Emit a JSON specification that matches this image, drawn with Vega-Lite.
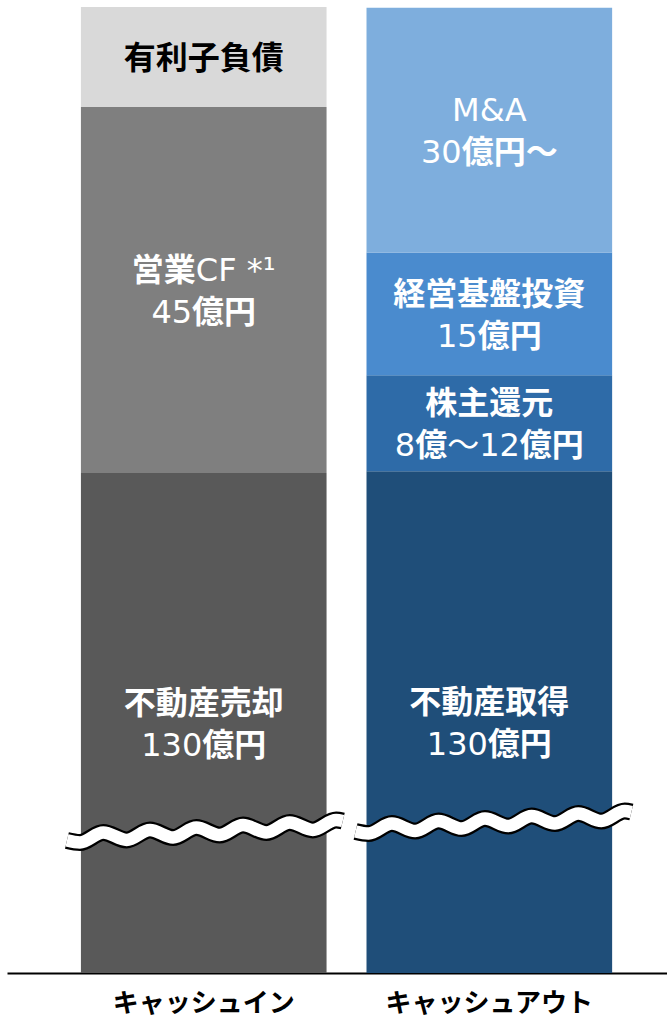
{
  "$schema": "https://vega.github.io/schema/vega-lite/v6.json",
  "width": 660,
  "height": 966,
  "padding": {"left": 7, "top": 7, "right": 0, "bottom": 0},
  "background": "white",
  "config": {"view": {"stroke": null}},
  "datasets": {
    "segs": [
      {"side": "キャッシュイン", "item": "不動産売却", "ord": 1, "h": 61.5, "pt": ["不動産売却", "130", "億円"], "pb": [1, 0, 1], "pl": [0, 1, 1], "ps": [0, 0, 1]},
      {"side": "キャッシュイン", "item": "営業CF", "ord": 2, "h": 45.0, "pt": ["営業", "CF *¹", "45", "億円"], "pb": [1, 0, 0, 1], "pl": [0, 0, 1, 1], "ps": [0, 1, 0, 1]},
      {"side": "キャッシュイン", "item": "有利子負債", "ord": 3, "h": 12.3, "pt": ["有利子負債"], "pb": [1], "pl": [0], "ps": [0]},
      {"side": "キャッシュアウト", "item": "不動産取得", "ord": 1, "h": 61.7, "pt": ["不動産取得", "130", "億円"], "pb": [1, 0, 1], "pl": [0, 1, 1], "ps": [0, 0, 1]},
      {"side": "キャッシュアウト", "item": "株主還元", "ord": 2, "h": 11.8, "pt": ["株主還元", "8", "億", "～", "12", "億円"], "pb": [1, 0, 1, 0, 0, 1], "pl": [0, 1, 1, 1, 1, 1], "ps": [0, 0, 1, 2, 3, 4]},
      {"side": "キャッシュアウト", "item": "経営基盤投資", "ord": 3, "h": 15.1, "pt": ["経営基盤投資", "15", "億円"], "pb": [1, 0, 1], "pl": [0, 1, 1], "ps": [0, 0, 1]},
      {"side": "キャッシュアウト", "item": "M&A", "ord": 4, "h": 30.1, "pt": ["M&A", "30", "億円～"], "pb": [0, 0, 1], "pl": [0, 1, 1], "ps": [0, 0, 1]}
    ],
    "wave": [
      {"side": "キャッシュイン", "u": -0.057, "wy": 16.30},
      {"side": "キャッシュイン", "u": -0.004, "wy": 16.05},
      {"side": "キャッシュイン", "u": 0.091, "wy": 17.28},
      {"side": "キャッシュイン", "u": 0.186, "wy": 16.36},
      {"side": "キャッシュイン", "u": 0.281, "wy": 17.59},
      {"side": "キャッシュイン", "u": 0.375, "wy": 16.66},
      {"side": "キャッシュイン", "u": 0.470, "wy": 17.89},
      {"side": "キャッシュイン", "u": 0.565, "wy": 16.97},
      {"side": "キャッシュイン", "u": 0.660, "wy": 18.20},
      {"side": "キャッシュイン", "u": 0.755, "wy": 17.28},
      {"side": "キャッシュイン", "u": 0.850, "wy": 18.51},
      {"side": "キャッシュイン", "u": 0.944, "wy": 17.59},
      {"side": "キャッシュイン", "u": 1.039, "wy": 18.82},
      {"side": "キャッシュイン", "u": 1.066, "wy": 18.69},
      {"side": "キャッシュアウト", "u": 1.118, "wy": 17.40},
      {"side": "キャッシュアウト", "u": 1.171, "wy": 17.15},
      {"side": "キャッシュアウト", "u": 1.266, "wy": 18.38},
      {"side": "キャッシュアウト", "u": 1.361, "wy": 17.46},
      {"side": "キャッシュアウト", "u": 1.456, "wy": 18.69},
      {"side": "キャッシュアウト", "u": 1.550, "wy": 17.76},
      {"side": "キャッシュアウト", "u": 1.645, "wy": 18.99},
      {"side": "キャッシュアウト", "u": 1.740, "wy": 18.07},
      {"side": "キャッシュアウト", "u": 1.835, "wy": 19.30},
      {"side": "キャッシュアウト", "u": 1.930, "wy": 18.38},
      {"side": "キャッシュアウト", "u": 2.025, "wy": 19.61},
      {"side": "キャッシュアウト", "u": 2.119, "wy": 18.69},
      {"side": "キャッシュアウト", "u": 2.214, "wy": 19.92},
      {"side": "キャッシュアウト", "u": 2.241, "wy": 19.79}
    ]
  },
  "resolve": {"scale": {"x": "independent"}, "axis": {"x": "independent"}},
  "layer": [
    {
      "data": {"name": "segs"},
      "transform": [
        {"stack": "h", "groupby": ["side"], "sort": [{"field": "ord"}], "as": ["y0", "y1"]},
        {"calculate": "(datum.y0 + datum.y1) / 2", "as": "mid"}
      ],
      "encoding": {
        "x": {
          "field": "side", "type": "nominal",
          "sort": ["キャッシュイン", "キャッシュアウト"],
          "scale": {"type": "band", "paddingInner": 0.1399, "paddingOuter": 0.2255, "align": 0.574},
          "axis": {
            "title": null, "domainColor": "black", "domainWidth": 2,
            "ticks": false, "tickSize": 0, "grid": false, "labelLimit": 0,
            "labelAngle": 0, "labelFont": "Noto Sans CJK JP", "labelFontSize": 26,
            "labelFontWeight": "bold", "labelColor": "black",
            "labelBaseline": "alphabetic", "labelPadding": 38
          }
        }
      },
      "layer": [
        {
          "mark": {"type": "bar"},
          "encoding": {
            "y": {"field": "y0", "type": "quantitative", "scale": {"domain": [0, 118.8], "nice": false}, "axis": null},
            "y2": {"field": "y1"},
            "color": {
              "field": "item", "type": "nominal", "legend": null,
              "scale": {
                "domain": ["不動産売却", "営業CF", "有利子負債", "不動産取得", "株主還元", "経営基盤投資", "M&A"],
                "range": ["#595959", "#7f7f7f", "#d9d9d9", "#1f4e79", "#2e6ba8", "#4a8bce", "#7eaedd"]
              }
            }
          }
        },
        {
          "transform": [
            {"flatten": ["pt", "pb", "pl", "ps"]},
            {"calculate": "0.636*length(replace(datum.pt, regexp('[^0-9]','g'), '')) + length(replace(datum.pt, regexp('[ -ÿ]','g'), '')) + 0.406*length(replace(datum.pt, regexp('[^ *¹]','g'), '')) + 0.637*length(replace(datum.pt, regexp('[^CF]','g'), '')) + 0.776*length(replace(datum.pt, regexp('[^MA&]','g'), ''))", "as": "w"},
            {"window": [{"op": "sum", "field": "w", "as": "cum"}], "groupby": ["item", "pl"], "sort": [{"field": "ps"}], "frame": [null, 0]},
            {"joinaggregate": [{"op": "sum", "field": "w", "as": "tot"}], "groupby": ["item", "pl"]},
            {"joinaggregate": [{"op": "max", "field": "pl", "as": "nl"}], "groupby": ["item"]},
            {"filter": "datum.pb == 0"}
          ],
          "mark": {
            "type": "text", "align": "left", "baseline": "middle", "fontSize": 32,
            "font": "'DejaVu Sans', 'Noto Sans CJK JP'", "fontWeight": "normal",
            "dx": {"expr": "(datum.cum - datum.w - datum.tot / 2) * 32"},
            "dy": {"expr": "(datum.pl - datum.nl / 2) * 42 + 2"}
          },
          "encoding": {
            "y": {"field": "mid", "type": "quantitative"},
            "text": {"field": "pt", "type": "nominal"},
            "color": {"condition": {"test": "datum.item === '有利子負債'", "value": "black"}, "value": "white"}
          }
        },
        {
          "transform": [
            {"flatten": ["pt", "pb", "pl", "ps"]},
            {"calculate": "0.636*length(replace(datum.pt, regexp('[^0-9]','g'), '')) + length(replace(datum.pt, regexp('[ -ÿ]','g'), '')) + 0.406*length(replace(datum.pt, regexp('[^ *¹]','g'), '')) + 0.637*length(replace(datum.pt, regexp('[^CF]','g'), '')) + 0.776*length(replace(datum.pt, regexp('[^MA&]','g'), ''))", "as": "w"},
            {"window": [{"op": "sum", "field": "w", "as": "cum"}], "groupby": ["item", "pl"], "sort": [{"field": "ps"}], "frame": [null, 0]},
            {"joinaggregate": [{"op": "sum", "field": "w", "as": "tot"}], "groupby": ["item", "pl"]},
            {"joinaggregate": [{"op": "max", "field": "pl", "as": "nl"}], "groupby": ["item"]},
            {"filter": "datum.pb == 1"}
          ],
          "mark": {
            "type": "text", "align": "left", "baseline": "middle", "fontSize": 32,
            "font": "'Noto Sans CJK JP'", "fontWeight": "bold",
            "dx": {"expr": "(datum.cum - datum.w - datum.tot / 2) * 32"},
            "dy": {"expr": "(datum.pl - datum.nl / 2) * 42 + 2"}
          },
          "encoding": {
            "y": {"field": "mid", "type": "quantitative"},
            "text": {"field": "pt", "type": "nominal"},
            "color": {"condition": {"test": "datum.item === '有利子負債'", "value": "black"}, "value": "white"}
          }
        }
      ]
    },
    {
      "data": {"name": "wave"},
      "encoding": {
        "x": {"field": "u", "type": "quantitative", "scale": {"domain": [-0.301, 2.386], "nice": false, "zero": false}, "axis": null},
        "y": {"field": "wy", "type": "quantitative"},
        "detail": {"field": "side"},
        "order": {"field": "u"}
      },
      "layer": [
        {"mark": {"type": "line", "interpolate": "monotone", "stroke": "black", "strokeWidth": 17, "strokeCap": "butt"}},
        {"mark": {"type": "line", "interpolate": "monotone", "stroke": "white", "strokeWidth": 12.5, "strokeCap": "butt"}}
      ]
    }
  ]
}
